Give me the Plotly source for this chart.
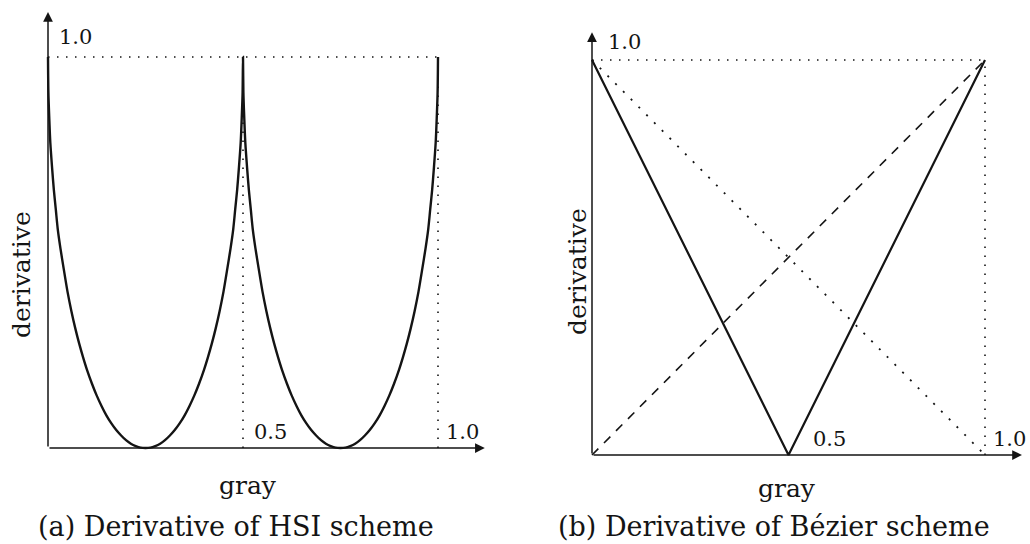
import plotly.graph_objects as go

# ---- data ----
hsi_x = [0, 0.001, 0.003, 0.006, 0.011, 0.015, 0.02, 0.025, 0.032, 0.04, 0.05, 0.06, 0.07, 0.08, 0.09,
         0.10, 0.1125, 0.125, 0.1375, 0.15, 0.1625, 0.175, 0.1875, 0.20, 0.2125, 0.225, 0.2375, 0.25,
         0.2625, 0.275, 0.2875, 0.30, 0.3125, 0.325, 0.3375, 0.35, 0.3625, 0.375, 0.3875, 0.40, 0.41,
         0.42, 0.43, 0.44, 0.45, 0.46, 0.468, 0.475, 0.48, 0.485, 0.489, 0.494, 0.497, 0.499, 0.5,
         0.501, 0.503, 0.506, 0.511, 0.515, 0.52, 0.525, 0.532, 0.54, 0.55, 0.56, 0.57, 0.58, 0.59,
         0.60, 0.6125, 0.625, 0.6375, 0.65, 0.6625, 0.675, 0.6875, 0.70, 0.7125, 0.725, 0.7375, 0.75,
         0.7625, 0.775, 0.7875, 0.80, 0.8125, 0.825, 0.8375, 0.85, 0.8625, 0.875, 0.8875, 0.90, 0.91,
         0.92, 0.93, 0.94, 0.95, 0.96, 0.968, 0.975, 0.98, 0.985, 0.989, 0.994, 0.997, 0.999, 1.0]
hsi_y = [1.0, 0.91, 0.85, 0.78, 0.71, 0.66, 0.61, 0.56, 0.51, 0.46, 0.40, 0.35, 0.306, 0.267, 0.232,
         0.20, 0.165, 0.134, 0.107, 0.083, 0.063, 0.046, 0.032, 0.020, 0.011, 0.005, 0.001, 0.0,
         0.001, 0.005, 0.011, 0.020, 0.032, 0.046, 0.063, 0.083, 0.107, 0.134, 0.165, 0.20, 0.232,
         0.267, 0.306, 0.35, 0.40, 0.46, 0.51, 0.56, 0.61, 0.66, 0.71, 0.78, 0.85, 0.91, 1.0,
         0.91, 0.85, 0.78, 0.71, 0.66, 0.61, 0.56, 0.51, 0.46, 0.40, 0.35, 0.306, 0.267, 0.232,
         0.20, 0.165, 0.134, 0.107, 0.083, 0.063, 0.046, 0.032, 0.020, 0.011, 0.005, 0.001, 0.0,
         0.001, 0.005, 0.011, 0.020, 0.032, 0.046, 0.063, 0.083, 0.107, 0.134, 0.165, 0.20, 0.232,
         0.267, 0.306, 0.35, 0.40, 0.46, 0.51, 0.56, 0.61, 0.66, 0.71, 0.78, 0.85, 0.91, 1.0]

bez_x = [0, 0.5, 1]
bez_y = [1, 0, 1]
bez_dotted_x = [0, 1]
bez_dotted_y = [1, 0]
bez_dashed_x = [0, 1]
bez_dashed_y = [0, 1]

tick_labels = ["0.5", "1.0"]
tick_vals = [0.5, 1.0]
y_top_label = "1.0"
x_title = "gray"
y_title = "derivative"
captions = ["(a) Derivative of HSI scheme", "(b) Derivative of Bézier scheme"]

INK = "#141414"
FONT = "DejaVu Serif"

fig = go.Figure()


def guide(xs, ys, xa, ya, dash="1.5px,7.5px", width=1.6):
    fig.add_trace(go.Scatter(x=xs, y=ys, mode="lines", xaxis=xa, yaxis=ya,
                             line=dict(color=INK, width=width, dash=dash),
                             hoverinfo="skip", showlegend=False))


# ---- left panel ----
guide([0, 1], [1, 1], "x", "y")
guide([0.5, 0.5], [0, 1], "x", "y")
guide([1, 1], [0, 1], "x", "y")
fig.add_trace(go.Scatter(x=hsi_x, y=hsi_y, mode="lines", xaxis="x", yaxis="y",
                         line=dict(color=INK, width=2.4, shape="spline", smoothing=0.8),
                         showlegend=False))

# ---- right panel ----
guide([0, 1], [1, 1], "x2", "y2")
guide([1, 1], [0, 1], "x2", "y2")
guide(bez_dotted_x, bez_dotted_y, "x2", "y2", dash="2px,9px", width=1.8)
guide(bez_dashed_x, bez_dashed_y, "x2", "y2", dash="9px,8px", width=1.6)
fig.add_trace(go.Scatter(x=bez_x, y=bez_y, mode="lines", xaxis="x2", yaxis="y2",
                         line=dict(color=INK, width=2.2), showlegend=False))

annotations = []


def arrow(xr, yr, x, y):
    annotations.append(dict(x=x, y=y, ax=0, ay=0, xref=xr, yref=yr, axref=xr, ayref=yr,
                            text="", showarrow=True, arrowhead=2, arrowsize=1.3,
                            arrowwidth=1.5, arrowcolor=INK))


arrow("x", "y", 1.12, 0)
arrow("x", "y", 0, 1.115)
arrow("x2", "y2", 1.094, 0)
arrow("x2", "y2", 0, 1.07)


def text(xr, yr, x, y, t, size=21, xanchor="left", angle=0):
    annotations.append(dict(x=x, y=y, xref=xr, yref=yr, text=t, showarrow=False,
                            xanchor=xanchor, yanchor="middle", textangle=angle,
                            font=dict(family=FONT, size=size, color=INK)))


# tick labels
text("x", "y", 0.024, 1.051, y_top_label)
text("x", "y", tick_vals[0] + 0.022, 0.041, tick_labels[0])
text("x", "y", tick_vals[1] + 0.016, 0.041, tick_labels[1])
text("x2", "y2", 0.036, 1.046, y_top_label)
text("x2", "y2", tick_vals[0] + 0.058, 0.0405, tick_labels[0])
text("x2", "y2", tick_vals[1] + 0.016, 0.0405, tick_labels[1])

# axis titles
text("paper", "paper", 248 / 1030, 1 - 485 / 544, x_title, size=25, xanchor="center")
text("paper", "paper", 787 / 1030, 1 - 488 / 544, x_title, size=25, xanchor="center")
text("paper", "paper", 21 / 1030, 1 - 275 / 544, y_title, size=25, xanchor="center", angle=-90)
text("paper", "paper", 577 / 1030, 1 - 272 / 544, y_title, size=25, xanchor="center", angle=-90)

# captions
text("paper", "paper", 236 / 1030, 1 - 526 / 544, captions[0], size=27, xanchor="center")
text("paper", "paper", 774 / 1030, 1 - 526 / 544, captions[1], size=27, xanchor="center")

ax_common = dict(visible=False, showgrid=False, zeroline=False, fixedrange=True)
fig.update_layout(
    width=1030, height=544,
    margin=dict(l=0, r=0, t=0, b=0),
    paper_bgcolor="white", plot_bgcolor="white",
    xaxis=dict(domain=[0, 0.5], range=[-48 / 390, 467 / 390], **ax_common),
    yaxis=dict(domain=[0, 1], range=[-96 / 391, 448 / 391], **ax_common),
    xaxis2=dict(domain=[0.5, 1], range=[-77 / 393, 438 / 393], **ax_common),
    yaxis2=dict(domain=[0, 1], range=[-89 / 395, 455 / 395], anchor="x2", **ax_common),
    annotations=annotations,
    showlegend=False,
)

fig.write_html("out.html")
